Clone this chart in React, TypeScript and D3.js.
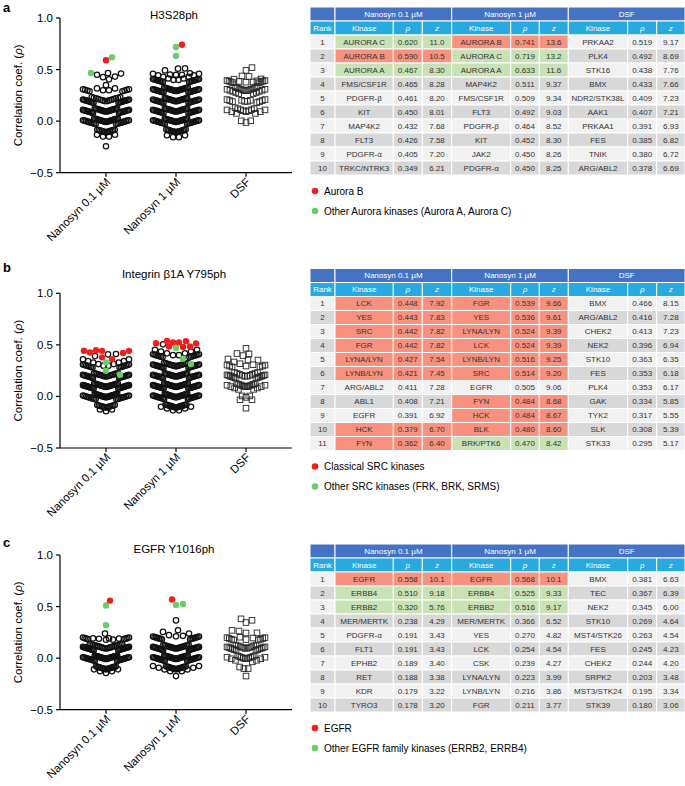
import React from 'react';
import * as d3 from 'd3';

// ---------------- shared labels ----------------
const groupLabels = ['Nanosyn 0.1 µM', 'Nanosyn 1 µM', 'DSF'];
const yTickValues = [1.0, 0.5, 0.0, -0.5];
const yAxisTitle = 'Correlation coef. (';

// ---------------- Panel a : H3S28ph ----------------
const aTitle = 'H3S28ph';
const aNano01Kinase = ['AURORA C', 'AURORA B', 'AURORA A', 'FMS/CSF1R', 'PDGFR-β', 'KIT', 'MAP4K2', 'FLT3', 'PDGFR-α', 'TRKC/NTRK3'];
const aNano01Rho = [0.620, 0.590, 0.467, 0.465, 0.461, 0.450, 0.432, 0.426, 0.405, 0.349];
const aNano01Z = [11.0, 10.5, 8.30, 8.28, 8.20, 8.01, 7.68, 7.58, 7.20, 6.21];
const aNano01Mark = ['g', 'r', 'g', '', '', '', '', '', '', ''];
const aNano1Kinase = ['AURORA B', 'AURORA C', 'AURORA A', 'MAP4K2', 'FMS/CSF1R', 'FLT3', 'PDGFR-β', 'KIT', 'JAK2', 'PDGFR-α'];
const aNano1Rho = [0.741, 0.719, 0.633, 0.511, 0.509, 0.492, 0.464, 0.452, 0.450, 0.450];
const aNano1Z = [13.6, 13.2, 11.6, 9.37, 9.34, 9.03, 8.52, 8.30, 8.26, 8.25];
const aNano1Mark = ['r', 'g', 'g', '', '', '', '', '', '', ''];
const aDsfKinase = ['PRKAA2', 'PLK4', 'STK16', 'BMX', 'NDR2/STK38L', 'AAK1', 'PRKAA1', 'FES', 'TNIK', 'ARG/ABL2'];
const aDsfRho = [0.519, 0.492, 0.438, 0.433, 0.409, 0.407, 0.391, 0.385, 0.380, 0.378];
const aDsfZ = [9.17, 8.69, 7.76, 7.66, 7.23, 7.21, 6.93, 6.82, 6.72, 6.69];
const aDsfMark = ['', '', '', '', '', '', '', '', '', ''];
// remaining (non-top-ranked) kinases, read as [value, count] per row of the swarm
const aNano01Bins = [[0.325, 4], [0.275, 8], [0.225, 14], [0.175, 18], [0.125, 18], [0.075, 18], [0.025, 20], [-0.025, 18], [-0.075, 12], [-0.125, 4], [-0.21, 1]];
const aNano1Bins = [[0.425, 10], [0.375, 16], [0.325, 18], [0.275, 18], [0.225, 18], [0.175, 18], [0.125, 18], [0.075, 18], [0.025, 18], [-0.025, 18], [-0.075, 14], [-0.13, 4]];
const aDsfBins = [[0.36, 8], [0.325, 12], [0.275, 10], [0.22, 4], [0.175, 7], [0.125, 8], [0.075, 6], [0.02, 3]];
const aLegend = ['Aurora B', 'Other Aurora kinases (Aurora A, Aurora C)'];

// ---------------- Panel b : Integrin β1A Y795ph ----------------
const bTitle = 'Integrin β1A Y795ph';
const bNano01Kinase = ['LCK', 'YES', 'SRC', 'FGR', 'LYNA/LYN', 'LYNB/LYN', 'ARG/ABL2', 'ABL1', 'EGFR', 'HCK', 'FYN'];
const bNano01Rho = [0.448, 0.443, 0.442, 0.442, 0.427, 0.421, 0.411, 0.408, 0.391, 0.379, 0.362];
const bNano01Z = [7.92, 7.83, 7.82, 7.82, 7.54, 7.45, 7.28, 7.21, 6.92, 6.70, 6.40];
const bNano01Mark = ['r', 'r', 'r', 'r', 'r', 'r', '', '', '', 'r', 'r'];
const bNano1Kinase = ['FGR', 'YES', 'LYNA/LYN', 'LCK', 'LYNB/LYN', 'SRC', 'EGFR', 'FYN', 'HCK', 'BLK', 'BRK/PTK6'];
const bNano1Rho = [0.539, 0.536, 0.524, 0.524, 0.516, 0.514, 0.505, 0.484, 0.484, 0.480, 0.470];
const bNano1Z = [9.66, 9.61, 9.39, 9.39, 9.25, 9.20, 9.06, 8.68, 8.67, 8.60, 8.42];
const bNano1Mark = ['r', 'r', 'r', 'r', 'r', 'r', '', 'r', 'r', 'r', 'g'];
const bDsfKinase = ['BMX', 'ARG/ABL2', 'CHEK2', 'NEK2', 'STK10', 'FES', 'PLK4', 'GAK', 'TYK2', 'SLK', 'STK33'];
const bDsfRho = [0.466, 0.416, 0.413, 0.396, 0.363, 0.353, 0.353, 0.334, 0.317, 0.308, 0.295];
const bDsfZ = [8.15, 7.28, 7.23, 6.94, 6.35, 6.18, 6.17, 5.85, 5.55, 5.39, 5.17];
const bDsfMark = ['', '', '', '', '', '', '', '', '', '', ''];
const bNano01ExtraGreen = [0.33, 0.25, 0.21];
const bNano1ExtraGreen = [0.365, 0.315];
const bNano01Bins = [[0.325, 10], [0.275, 14], [0.225, 16], [0.175, 18], [0.125, 20], [0.075, 22], [0.025, 22], [-0.025, 18], [-0.075, 12], [-0.11, 3]];
const bNano1Bins = [[0.425, 8], [0.375, 14], [0.325, 16], [0.275, 18], [0.225, 18], [0.175, 18], [0.125, 20], [0.075, 20], [0.025, 20], [-0.025, 18], [-0.075, 16], [-0.11, 6]];
const bDsfBins = [[0.27, 6], [0.225, 10], [0.175, 12], [0.125, 12], [0.075, 8], [0.025, 3], [-0.02, 2], [-0.08, 1]];
const bLegend = ['Classical SRC kinases', 'Other SRC kinases (FRK, BRK, SRMS)'];

// ---------------- Panel c : EGFR Y1016ph ----------------
const cTitle = 'EGFR Y1016ph';
const cNano01Kinase = ['EGFR', 'ERBB4', 'ERBB2', 'MER/MERTK', 'PDGFR-α', 'FLT1', 'EPHB2', 'RET', 'KDR', 'TYRO3'];
const cNano01Rho = [0.558, 0.510, 0.320, 0.238, 0.191, 0.191, 0.189, 0.188, 0.179, 0.178];
const cNano01Z = [10.1, 9.18, 5.76, 4.29, 3.43, 3.43, 3.40, 3.38, 3.22, 3.20];
const cNano01Mark = ['r', 'g', 'g', '', '', '', '', '', '', ''];
const cNano1Kinase = ['EGFR', 'ERBB4', 'ERBB2', 'MER/MERTK', 'YES', 'LCK', 'CSK', 'LYNA/LYN', 'LYNB/LYN', 'FGR'];
const cNano1Rho = [0.568, 0.525, 0.516, 0.366, 0.270, 0.254, 0.239, 0.223, 0.216, 0.211];
const cNano1Z = [10.1, 9.33, 9.17, 6.52, 4.82, 4.54, 4.27, 3.99, 3.86, 3.77];
const cNano1Mark = ['r', 'g', 'g', '', '', '', '', '', '', ''];
const cDsfKinase = ['BMX', 'TEC', 'NEK2', 'STK10', 'MST4/STK26', 'FES', 'CHEK2', 'SRPK2', 'MST3/STK24', 'STK39'];
const cDsfRho = [0.381, 0.367, 0.345, 0.269, 0.263, 0.245, 0.244, 0.203, 0.195, 0.180];
const cDsfZ = [6.63, 6.39, 6.00, 4.64, 4.54, 4.23, 4.20, 3.48, 3.34, 3.06];
const cDsfMark = ['', '', '', '', '', '', '', '', '', ''];
const cNano01Bins = [[0.165, 8], [0.125, 20], [0.075, 22], [0.025, 22], [-0.025, 20], [-0.075, 16], [-0.11, 5]];
const cNano1Bins = [[0.175, 14], [0.125, 18], [0.075, 20], [0.025, 22], [-0.025, 20], [-0.075, 16], [-0.11, 8], [-0.14, 1]];
const cDsfBins = [[0.165, 8], [0.125, 10], [0.075, 12], [0.025, 10], [-0.025, 7], [-0.075, 3], [-0.14, 1]];
const cLegend = ['EGFR', 'Other EGFR family kinases (ERRB2, ERRB4)'];

// ---------------- styling ----------------
const FONT = 'Liberation Sans, Arial, Helvetica, sans-serif';
const RED = '#F21E1E';
const GREEN = '#6ACD6A';
const H1 = '#4472C4';
const H2 = '#28A9E0';
const ROW_LIGHT = '#F1F1F1';
const ROW_DARK = '#D8D8D8';
const CELL_RED = '#F9917F';
const CELL_GREEN = '#C8E2B6';
const fmtRho = d3.format('.3f');
const fmtZ = d3.format('.3r');

type Pt = { v: number; kind: string; binned: boolean; px?: number; py?: number };

// binned rows: Prism-like chevrons (lowest values in centre, highest at the edges)
function layoutBinned(bins: number[][], cx: number, y: (v: number) => number, half: number, maxStep: number): Pt[] {
  const pts: Pt[] = [];
  bins.forEach(([v, n]) => { for (let k = 0; k < n; k++) pts.push({ v, kind: 'o', binned: true }); });
  const groups = d3.group(pts, (p) => Math.floor(p.v / 0.1 + 1e-9));
  const out: Pt[] = [];
  for (const [, arr] of groups) {
    const sorted = arr.slice().sort((a, b) => a.v - b.v);
    const n = sorted.length;
    const s = n > 1 ? Math.min(maxStep, (2 * half) / (n - 1)) : 0;
    const offs: number[] = [];
    for (let k = 0; k < n; k++) offs.push((k - (n - 1) / 2) * s);
    offs.sort((a, b) => Math.abs(a) - Math.abs(b) || a - b);
    sorted.forEach((p, i) => {
      const d = offs[i];
      out.push({ ...p, px: cx + d, py: y(p.v) + 3.5 - Math.abs(d) * (7 / half) });
    });
  }
  return out;
}

// individual (ranked / highlighted) points: greedy beeswarm, ascending
function layoutIndividual(items: Pt[], placedBase: Pt[], cx: number, y: (v: number) => number, half: number, minD: number): Pt[] {
  const placed: Pt[] = [];
  const sorted = items.slice().sort((a, b) => a.v - b.v);
  const cands: number[] = [0];
  for (let k = 1; k <= half; k++) { cands.push(k); cands.push(-k); }
  for (const p of sorted) {
    const py = y(p.v);
    let best = 0;
    let bestScore = -1;
    for (const d of cands) {
      const px = cx + d;
      let md = Infinity;
      for (const q of placed) md = Math.min(md, Math.hypot(q.px! - px, q.py! - py));
      for (const q of placedBase) {
        if (Math.abs(q.py! - py) < minD) md = Math.min(md, Math.hypot(q.px! - px, q.py! - py) + 1.5);
      }
      if (md >= minD) { best = d; bestScore = Infinity; break; }
      if (md > bestScore) { bestScore = md; best = d; }
    }
    placed.push({ ...p, px: cx + best, py });
  }
  return placed;
}

type ColDef = { kinase: string[]; rho: number[]; z: number[]; mark: string[]; extra: number[]; bins: number[][] };

function ScatterPanel({ letter, title, top, letterY, titleY, cols }: { letter: string; title: string; top: number; letterY: number; titleY: number; cols: ColDef[] }) {
  const axisX = 60;
  const plotTop = top;
  const plotBottom = top + 154.7;
  const y = d3.scaleLinear().domain([-0.5, 1]).range([plotBottom, plotTop]);
  const x = d3.scalePoint<string>().domain(groupLabels).range([axisX, 292]).padding(0.657);
  return (
    <g>
      <text x={3} y={letterY} fontFamily={FONT} fontWeight="bold" fontSize={13}>{letter}</text>
      <text x={174} y={titleY} textAnchor="middle" fontFamily={FONT} fontSize={11.5}>{title}</text>
      <line x1={axisX} x2={axisX} y1={plotTop} y2={plotBottom} stroke="#000" strokeWidth={1.2} />
      <line x1={axisX} x2={292} y1={plotBottom} y2={plotBottom} stroke="#000" strokeWidth={1.2} />
      {yTickValues.map((t) => (
        <g key={t}>
          <line x1={axisX - 4} x2={axisX} y1={y(t)} y2={y(t)} stroke="#000" strokeWidth={1.2} />
          <text x={axisX - 7} y={y(t)} dy="0.35em" textAnchor="end" fontFamily={FONT} fontSize={11.5}>
            {t < 0 ? '\u2212' + Math.abs(t).toFixed(1) : t.toFixed(1)}
          </text>
        </g>
      ))}
      <text transform={`translate(22,${(plotTop + plotBottom) / 2}) rotate(-90)`} textAnchor="middle" fontFamily={FONT} fontSize={11.5}>
        {yAxisTitle}<tspan fontStyle="italic">ρ</tspan>)
      </text>
      {groupLabels.map((g) => (
        <g key={g}>
          <line x1={x(g)} x2={x(g)} y1={plotBottom} y2={plotBottom + 4} stroke="#000" strokeWidth={1.2} />
          <text transform={`translate(${(x(g) as number) + 5},${plotBottom + 10}) rotate(-45)`} textAnchor="end" fontFamily={FONT} fontSize={11.5}>{g}</text>
        </g>
      ))}
      {cols.map((c, ci) => {
        const isDsf = ci === 2;
        const half = isDsf ? 19 : 23;
        const cx = x(groupLabels[ci]) as number;
        const binned = layoutBinned(c.bins, cx, y, half, 6);
        const items: Pt[] = [];
        c.rho.forEach((v, i) => items.push({ v, kind: c.mark[i] || 'o', binned: false }));
        c.extra.forEach((v) => items.push({ v, kind: 'g', binned: false }));
        const indiv = layoutIndividual(items, binned, cx, y, half, isDsf ? 6.2 : 6.2);
        const all = binned.concat(indiv);
        const open = all.filter((p) => p.kind === 'o');
        const colored = all.filter((p) => p.kind !== 'o');
        return (
          <g key={ci}>
            {open.map((p, i) => isDsf ? (
              <rect key={i} x={p.px! - 2.8} y={p.py! - 2.8} width={5.6} height={5.6} fill="none" stroke="#262626" strokeWidth={0.9} />
            ) : (
              <circle key={i} cx={p.px} cy={p.py} r={2.7} fill="none" stroke="#111" strokeWidth={1.25} />
            ))}
            {colored.map((p, i) => (
              <circle key={'c' + i} cx={p.px} cy={p.py} r={3.2} fill={p.kind === 'r' ? RED : GREEN} />
            ))}
          </g>
        );
      })}
    </g>
  );
}

const colEdges = [310, 335, 393.3, 422.3, 451.7, 510.7, 539.3, 568.3, 627.7, 656.7, 685];

function KinaseTable({ top, cols, pSym, legend }: { top: number; cols: ColDef[]; pSym: string; legend: string[] }) {
  const rh = 14;
  const n = cols[0].kinase.length;
  const ts = 8;
  const cell = (x0: number, x1: number, yy: number, fill: string, text: any, color: string, key: string, italic = false) => (
    <g key={key}>
      <rect x={x0} y={yy} width={x1 - x0} height={rh} fill={fill} stroke="#fff" strokeWidth={1} />
      <text x={(x0 + x1) / 2} y={yy + rh / 2} dy="0.35em" textAnchor="middle" fontFamily={FONT} fontSize={ts} fill={color} fontStyle={italic ? 'italic' : 'normal'}>{text}</text>
    </g>
  );
  const out: any[] = [];
  out.push(cell(colEdges[0], colEdges[1], top, H1, '', '#fff', 'h1r'));
  groupLabels.forEach((g, gi) => out.push(cell(colEdges[1 + gi * 3], colEdges[4 + gi * 3], top, H1, g, '#fff', 'h1' + gi)));
  out.push(cell(colEdges[0], colEdges[1], top + rh, H2, 'Rank', '#fff', 'h2r'));
  groupLabels.forEach((g, gi) => {
    out.push(cell(colEdges[1 + gi * 3], colEdges[2 + gi * 3], top + rh, H2, 'Kinase', '#fff', 'h2k' + gi));
    out.push(cell(colEdges[2 + gi * 3], colEdges[3 + gi * 3], top + rh, H2, pSym, '#fff', 'h2p' + gi, true));
    out.push(cell(colEdges[3 + gi * 3], colEdges[4 + gi * 3], top + rh, H2, 'z', '#fff', 'h2z' + gi, true));
  });
  for (let i = 0; i < n; i++) {
    const yy = top + rh * (2 + i);
    const bg = i % 2 === 0 ? ROW_LIGHT : ROW_DARK;
    out.push(cell(colEdges[0], colEdges[1], yy, bg, String(i + 1), '#333', 'r' + i));
    cols.forEach((c, gi) => {
      const m = c.mark[i];
      const f = m === 'r' ? CELL_RED : m === 'g' ? CELL_GREEN : bg;
      out.push(cell(colEdges[1 + gi * 3], colEdges[2 + gi * 3], yy, f, c.kinase[i], '#333', `k${i}_${gi}`));
      out.push(cell(colEdges[2 + gi * 3], colEdges[3 + gi * 3], yy, f, fmtRho(c.rho[i]), '#333', `p${i}_${gi}`));
      out.push(cell(colEdges[3 + gi * 3], colEdges[4 + gi * 3], yy, f, fmtZ(c.z[i]), '#333', `z${i}_${gi}`));
    });
  }
  const bottom = top + rh * (2 + n);
  return (
    <g>
      {out}
      {legend.map((l, li) => (
        <g key={l}>
          <circle cx={315} cy={bottom + 16 + li * 20} r={3.3} fill={li === 0 ? RED : GREEN} />
          <text x={324} y={bottom + 16 + li * 20} dy="0.35em" fontFamily={FONT} fontSize={10}>{l}</text>
        </g>
      ))}
    </g>
  );
}

export default function App() {
  const aCols: ColDef[] = [
    { kinase: aNano01Kinase, rho: aNano01Rho, z: aNano01Z, mark: aNano01Mark, extra: [], bins: aNano01Bins },
    { kinase: aNano1Kinase, rho: aNano1Rho, z: aNano1Z, mark: aNano1Mark, extra: [], bins: aNano1Bins },
    { kinase: aDsfKinase, rho: aDsfRho, z: aDsfZ, mark: aDsfMark, extra: [], bins: aDsfBins },
  ];
  const bCols: ColDef[] = [
    { kinase: bNano01Kinase, rho: bNano01Rho, z: bNano01Z, mark: bNano01Mark, extra: bNano01ExtraGreen, bins: bNano01Bins },
    { kinase: bNano1Kinase, rho: bNano1Rho, z: bNano1Z, mark: bNano1Mark, extra: bNano1ExtraGreen, bins: bNano1Bins },
    { kinase: bDsfKinase, rho: bDsfRho, z: bDsfZ, mark: bDsfMark, extra: [], bins: bDsfBins },
  ];
  const cCols: ColDef[] = [
    { kinase: cNano01Kinase, rho: cNano01Rho, z: cNano01Z, mark: cNano01Mark, extra: [], bins: cNano01Bins },
    { kinase: cNano1Kinase, rho: cNano1Rho, z: cNano1Z, mark: cNano1Mark, extra: [], bins: cNano1Bins },
    { kinase: cDsfKinase, rho: cDsfRho, z: cDsfZ, mark: cDsfMark, extra: [], bins: cDsfBins },
  ];
  return (
    <svg width={685} height={786} style={{ position: 'absolute', left: 0, top: 0, background: '#fff' }}>
      <rect width={685} height={786} fill="#fff" />
      <ScatterPanel letter="a" title={aTitle} top={18} letterY={11.5} titleY={18.5} cols={aCols} />
      <ScatterPanel letter="b" title={bTitle} top={293.3} letterY={272} titleY={278} cols={bCols} />
      <ScatterPanel letter="c" title={cTitle} top={555} letterY={547} titleY={553} cols={cCols} />
      <KinaseTable top={7} cols={aCols} pSym="ρ" legend={aLegend} />
      <KinaseTable top={268.5} cols={bCols} pSym="ρ" legend={bLegend} />
      <KinaseTable top={544} cols={cCols} pSym="p" legend={cLegend} />
    </svg>
  );
}
